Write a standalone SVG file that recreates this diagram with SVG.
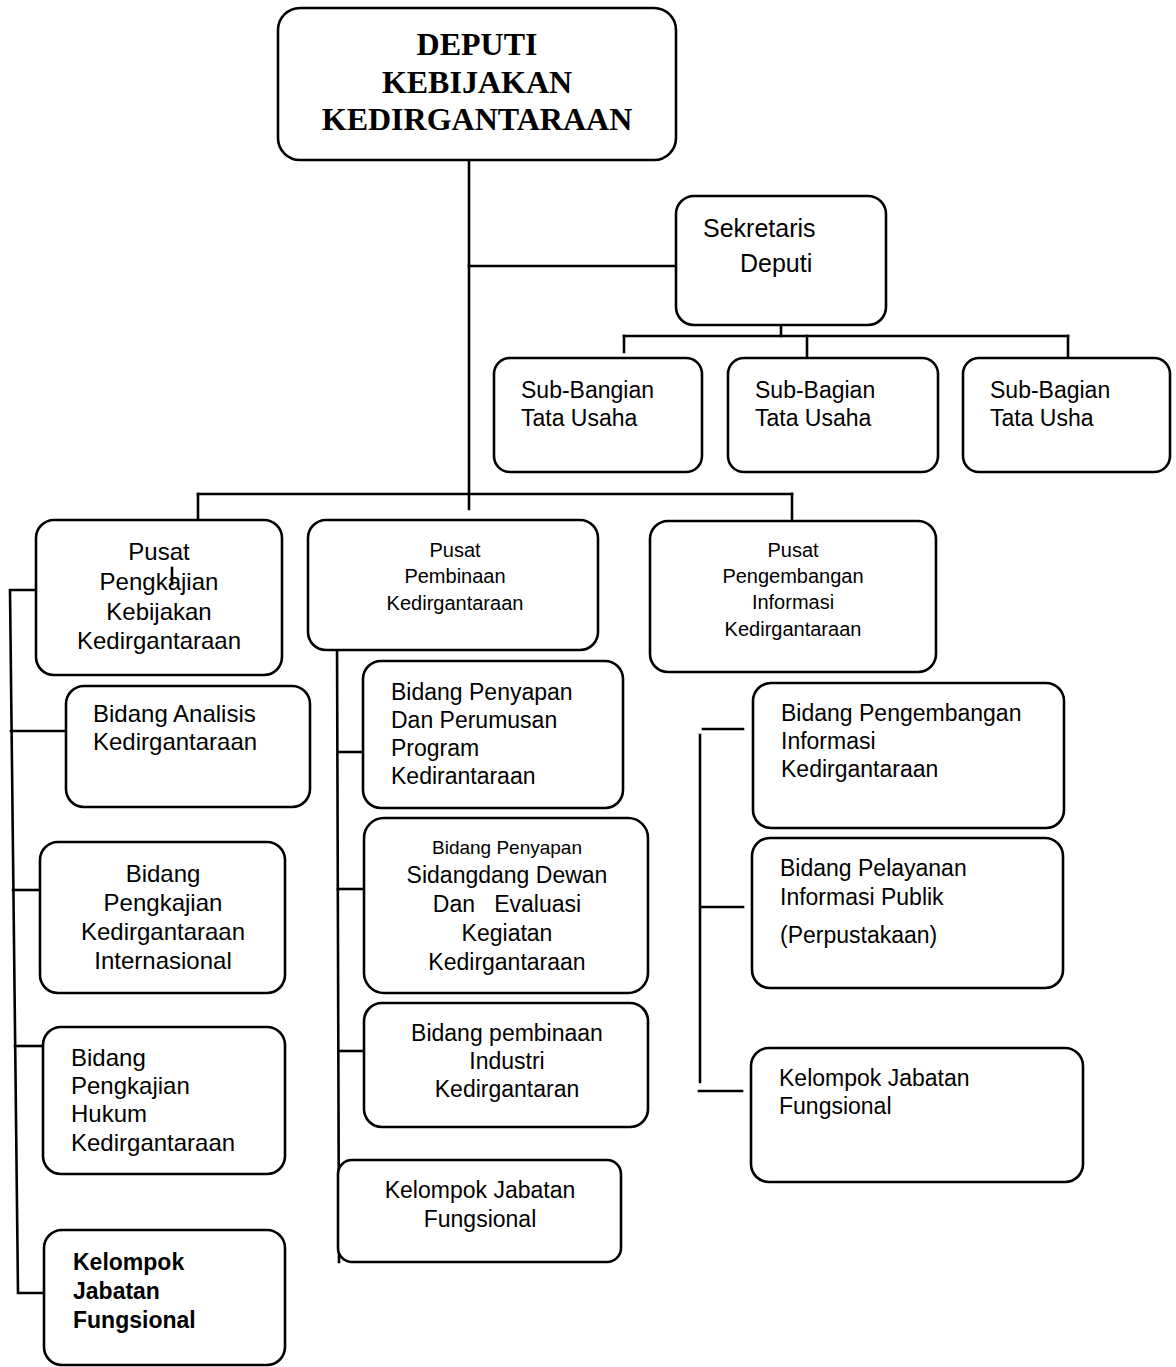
<svg xmlns="http://www.w3.org/2000/svg" width="1176" height="1367" viewBox="0 0 1176 1367">
  <style>
    .box { fill: #ffffff; stroke: #000000; stroke-width: 2.6; }
    .ln { fill: none; stroke: #000000; stroke-width: 2.6; stroke-linecap: square; }
    .head { font-family: "Liberation Serif", "Times New Roman", serif; font-weight: bold; font-size: 32px; fill: #000; text-anchor: middle; }
    .t { font-family: "Liberation Sans", Arial, sans-serif; font-size: 23px; fill: #000; }
    .c { text-anchor: middle; }
    .s20 { font-size: 20px; }
    .s19 { font-size: 19px; }
    .s24 { font-size: 24px; }
    .s25 { font-size: 25px; }
    .b { font-weight: bold; }
  </style>
  <rect width="1176" height="1367" fill="#ffffff"/>

  <!-- connectors -->
  <g id="connectors">
    <!-- trunk from the deputy -->
    <path class="ln" d="M469 161 V509"/>
    <path class="ln" d="M469 266 H676"/>
    <!-- secretary to sub-sections -->
    <path class="ln" d="M781 312 V336"/>
    <path class="ln" d="M624 336 H1068"/>
    <path class="ln" d="M624 336 V352"/>
    <path class="ln" d="M807 336 V360"/>
    <path class="ln" d="M1068 336 V360"/>
    <!-- trunk to the three centres -->
    <path class="ln" d="M198 494 H792"/>
    <path class="ln" d="M198 494 V520"/>
    <path class="ln" d="M792 494 V521"/>
    <!-- left column -->
    <path class="ln" d="M36 590 H10 L18 1293 H44"/>
    <path class="ln" d="M11 731 H66"/>
    <path class="ln" d="M13 890 H41"/>
    <path class="ln" d="M15 1046 H43"/>
    <!-- middle column -->
    <path class="ln" d="M337 636 L339 1262"/>
    <path class="ln" d="M338 752 H363"/>
    <path class="ln" d="M338 889 H364"/>
    <path class="ln" d="M339 1051 H364"/>
    <!-- right column -->
    <path class="ln" d="M700 735 V1082"/>
    <path class="ln" d="M703 729 H743"/>
    <path class="ln" d="M701 907 H743"/>
    <path class="ln" d="M699 1091 H742"/>
  </g>

  <!-- top: deputy -->
  <g id="deputi">
    <rect class="box" x="278" y="8" width="398" height="152" rx="22"/>
    <text class="head" x="477" y="55">DEPUTI</text>
    <text class="head" x="477" y="93">KEBIJAKAN</text>
    <text class="head" x="477" y="130">KEDIRGANTARAAN</text>
  </g>

  <g id="sekretaris">
    <rect class="box" x="676" y="196" width="210" height="129" rx="18"/>
    <text class="t s25" x="703" y="237">Sekretaris</text>
    <text class="t s25" x="740" y="272">Deputi</text>
  </g>

  <g id="sub-bagian-1">
    <rect class="box" x="494" y="358" width="208" height="114" rx="16"/>
    <text class="t" x="521" y="398">Sub-Bangian</text>
    <text class="t" x="521" y="426">Tata Usaha</text>
  </g>
  <g id="sub-bagian-2">
    <rect class="box" x="728" y="358" width="210" height="114" rx="16"/>
    <text class="t" x="755" y="398">Sub-Bagian</text>
    <text class="t" x="755" y="426">Tata Usaha</text>
  </g>
  <g id="sub-bagian-3">
    <rect class="box" x="963" y="358" width="207" height="114" rx="16"/>
    <text class="t" x="990" y="398">Sub-Bagian</text>
    <text class="t" x="990" y="426">Tata Usha</text>
  </g>

  <!-- centre 1 and its fields -->
  <g id="pusat-pengkajian">
    <rect class="box" x="36" y="520" width="246" height="155" rx="18"/>
    <text class="t s24 c" x="159" y="560">Pusat</text>
    <text class="t s24 c" x="159" y="590">Pengkajian</text>
    <text class="t s24 c" x="159" y="620">Kebijakan</text>
    <text class="t s24 c" x="159" y="649">Kedirgantaraan</text>
    <!-- short stroke over the "a" of Pengkajian -->
    <path class="ln" d="M172 568 V584" stroke-width="2"/>
  </g>
  <g id="bidang-analisis">
    <rect class="box" x="66" y="686" width="244" height="121" rx="18"/>
    <text class="t s24" x="93" y="722">Bidang Analisis</text>
    <text class="t s24" x="93" y="750">Kedirgantaraan</text>
  </g>
  <g id="bidang-internasional">
    <rect class="box" x="40" y="842" width="245" height="151" rx="18"/>
    <text class="t s24 c" x="163" y="882">Bidang</text>
    <text class="t s24 c" x="163" y="911">Pengkajian</text>
    <text class="t s24 c" x="163" y="940">Kedirgantaraan</text>
    <text class="t s24 c" x="163" y="969">Internasional</text>
  </g>
  <g id="bidang-hukum">
    <rect class="box" x="43" y="1027" width="242" height="147" rx="18"/>
    <text class="t s24" x="71" y="1066">Bidang</text>
    <text class="t s24" x="71" y="1094">Pengkajian</text>
    <text class="t s24" x="71" y="1122">Hukum</text>
    <text class="t s24" x="71" y="1151">Kedirgantaraan</text>
  </g>
  <g id="kelompok-1">
    <rect class="box" x="44" y="1230" width="241" height="135" rx="18"/>
    <text class="t b" x="73" y="1270">Kelompok</text>
    <text class="t b" x="73" y="1299">Jabatan</text>
    <text class="t b" x="73" y="1328">Fungsional</text>
  </g>

  <!-- centre 2 and its fields -->
  <g id="pusat-pembinaan">
    <rect class="box" x="308" y="520" width="290" height="130" rx="18"/>
    <text class="t s20 c" x="455" y="557">Pusat</text>
    <text class="t s20 c" x="455" y="583">Pembinaan</text>
    <text class="t s20 c" x="455" y="610">Kedirgantaraan</text>
  </g>
  <g id="bidang-perumusan">
    <rect class="box" x="363" y="661" width="260" height="147" rx="18"/>
    <text class="t" x="391" y="700">Bidang Penyapan</text>
    <text class="t" x="391" y="728">Dan Perumusan</text>
    <text class="t" x="391" y="756">Program</text>
    <text class="t" x="391" y="784">Kedirantaraan</text>
  </g>
  <g id="bidang-sidang">
    <rect class="box" x="364" y="818" width="284" height="175" rx="20"/>
    <text class="t s19 c" x="507" y="854">Bidang Penyapan</text>
    <text class="t c" x="507" y="883">Sidangdang Dewan</text>
    <text class="t c" x="507" y="912" xml:space="preserve">Dan   Evaluasi</text>
    <text class="t c" x="507" y="941">Kegiatan</text>
    <text class="t c" x="507" y="970">Kedirgantaraan</text>
  </g>
  <g id="bidang-industri">
    <rect class="box" x="364" y="1003" width="284" height="124" rx="18"/>
    <text class="t c" x="507" y="1041">Bidang pembinaan</text>
    <text class="t c" x="507" y="1069">Industri</text>
    <text class="t c" x="507" y="1097">Kedirgantaran</text>
  </g>
  <g id="kelompok-2">
    <rect class="box" x="338" y="1160" width="283" height="102" rx="14"/>
    <text class="t c" x="480" y="1198">Kelompok Jabatan</text>
    <text class="t c" x="480" y="1227">Fungsional</text>
  </g>

  <!-- centre 3 and its fields -->
  <g id="pusat-informasi">
    <rect class="box" x="650" y="521" width="286" height="151" rx="18"/>
    <text class="t s20 c" x="793" y="557">Pusat</text>
    <text class="t s20 c" x="793" y="583">Pengembangan</text>
    <text class="t s20 c" x="793" y="609">Informasi</text>
    <text class="t s20 c" x="793" y="636">Kedirgantaraan</text>
  </g>
  <g id="bidang-pengembangan">
    <rect class="box" x="753" y="683" width="311" height="145" rx="18"/>
    <text class="t" x="781" y="721">Bidang Pengembangan</text>
    <text class="t" x="781" y="749">Informasi</text>
    <text class="t" x="781" y="777">Kedirgantaraan</text>
  </g>
  <g id="bidang-pelayanan">
    <rect class="box" x="752" y="838" width="311" height="150" rx="18"/>
    <text class="t" x="780" y="876">Bidang Pelayanan</text>
    <text class="t" x="780" y="905">Informasi Publik</text>
    <text class="t" x="780" y="943">(Perpustakaan)</text>
  </g>
  <g id="kelompok-3">
    <rect class="box" x="751" y="1048" width="332" height="134" rx="18"/>
    <text class="t" x="779" y="1086">Kelompok Jabatan</text>
    <text class="t" x="779" y="1114">Fungsional</text>
  </g>
</svg>
